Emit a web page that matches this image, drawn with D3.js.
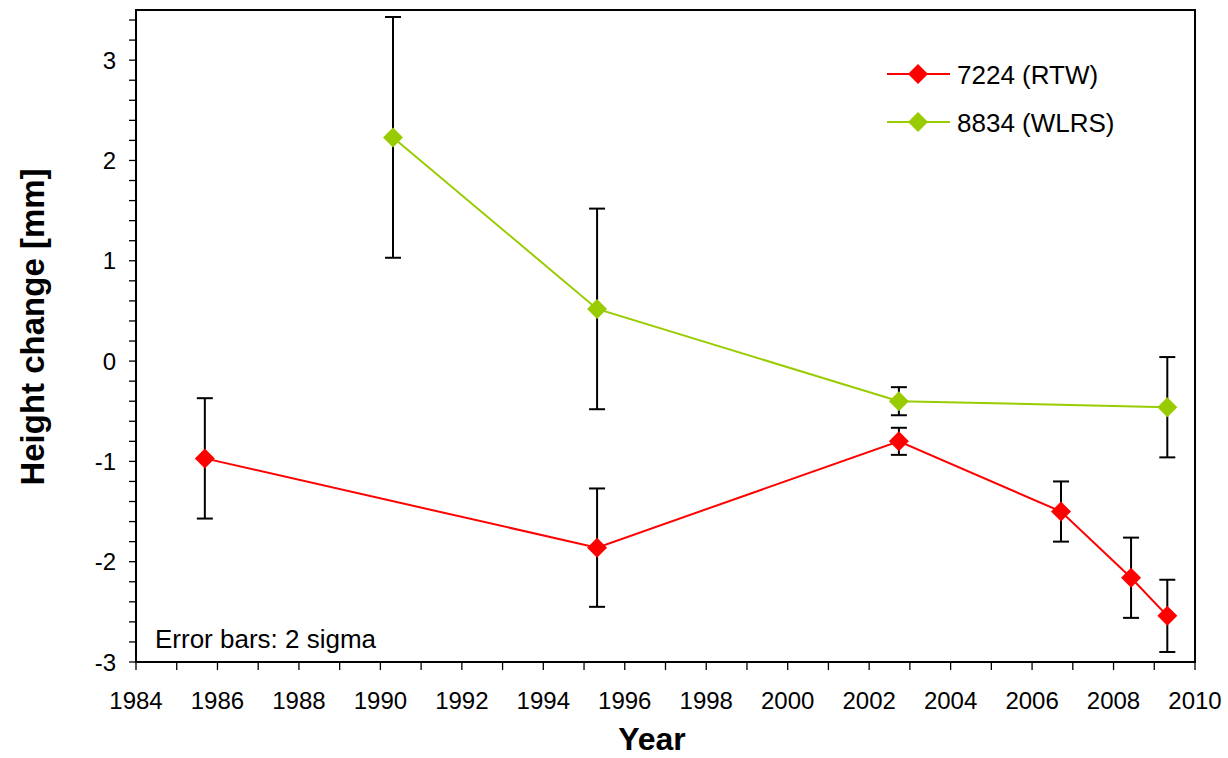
<!DOCTYPE html>
<html><head><meta charset="utf-8">
<script src="https://cdn.jsdelivr.net/npm/d3@7"></script>
<style>body{margin:0;background:#fff}svg{display:block}text{font-family:"Liberation Sans",Arial,sans-serif}</style>
</head><body>
<script>
const rtwYears = [1985.69, 1995.32, 2002.73, 2006.71, 2008.43, 2009.32];
const rtwValues = [-0.97, -1.86, -0.80, -1.50, -2.16, -2.54];
const rtwErrors = [0.60, 0.59, 0.135, 0.30, 0.40, 0.36];
const wlrsYears = [1990.31, 1995.32, 2002.73, 2009.32];
const wlrsValues = [2.23, 0.52, -0.40, -0.46];
const wlrsErrors = [1.20, 1.00, 0.14, 0.50];
const xTicks = d3.range(1984, 2011, 2);
const yTicks = [-3, -2, -1, 0, 1, 2, 3];
const seriesNames = ["7224 (RTW)", "8834 (WLRS)"];
const seriesColors = ["#ff0000", "#99cc00"];

const W = 1228, H = 758;
const L = 136, R = 1195, T = 10, B = 662;
const svg = d3.select("body").append("svg").attr("width", W).attr("height", H);
const x = d3.scaleLinear().domain([1984, 2010]).range([L, R]);
const y = d3.scaleLinear().domain([-3, 3.5]).range([B, T]);

// minor y ticks
const minor = d3.range(-3, 3.51, 0.2).map(v => +v.toFixed(2));
svg.append("g").selectAll("line").data(minor).join("line")
  .attr("x1", L - 7).attr("x2", L).attr("y1", d => y(d)).attr("y2", d => y(d))
  .attr("stroke", "#000").attr("stroke-width", 1.3);
svg.append("g").selectAll("text").data(yTicks).join("text")
  .attr("x", 116).attr("y", d => y(d) + 8.5).attr("text-anchor", "end")
  .attr("font-size", 24).text(d => d);
// x ticks
svg.append("g").selectAll("line").data(d3.range(1984, 2011)).join("line")
  .attr("x1", d => x(d)).attr("x2", d => x(d)).attr("y1", B).attr("y2", B + 8)
  .attr("stroke", "#000").attr("stroke-width", 1.3);
svg.append("g").selectAll("text").data(xTicks).join("text")
  .attr("x", d => x(d)).attr("y", 709).attr("text-anchor", "middle")
  .attr("font-size", 24).text(d => d);

// frame
svg.append("rect").attr("x", L).attr("y", T).attr("width", R - L).attr("height", B - T)
  .attr("fill", "none").attr("stroke", "#000").attr("stroke-width", 2);

// titles
svg.append("text").attr("x", 652).attr("y", 750).attr("text-anchor", "middle")
  .attr("font-size", 32).attr("font-weight", "bold").text("Year");
svg.append("text").attr("transform", "translate(44,327) rotate(-90)").attr("text-anchor", "middle")
  .attr("font-size", 33).attr("font-weight", "bold").text("Height change [mm]");

svg.append("text").attr("x", 155).attr("y", 648).attr("font-size", 26).text("Error bars: 2 sigma");

const series = [
  {years: rtwYears, vals: rtwValues, errs: rtwErrors},
  {years: wlrsYears, vals: wlrsValues, errs: wlrsErrors}
];
const diamond = (cx, cy, r) => `M${cx},${cy - r}L${cx + r},${cy}L${cx},${cy + r}L${cx - r},${cy}Z`;

// error bars
series.forEach(s => {
  const g = svg.append("g").attr("stroke", "#000").attr("stroke-width", 2);
  s.years.forEach((yr, i) => {
    const cx = x(yr), t = y(s.vals[i] + s.errs[i]), b = y(s.vals[i] - s.errs[i]);
    g.append("line").attr("x1", cx).attr("x2", cx).attr("y1", t).attr("y2", b);
    g.append("line").attr("x1", cx - 8).attr("x2", cx + 8).attr("y1", t).attr("y2", t);
    g.append("line").attr("x1", cx - 8).attr("x2", cx + 8).attr("y1", b).attr("y2", b);
  });
});
// lines and markers (green first, red on top)
[1, 0].forEach(k => {
  const s = series[k];
  const pts = s.years.map((yr, i) => [yr, s.vals[i]]);
  svg.append("path").datum(pts)
    .attr("d", d3.line().x(d => x(d[0])).y(d => y(d[1])))
    .attr("fill", "none").attr("stroke", seriesColors[k]).attr("stroke-width", 2);
  svg.append("g").selectAll("path").data(pts).join("path")
    .attr("d", d => diamond(x(d[0]), y(d[1]), 10)).attr("fill", seriesColors[k]);
});

// legend
seriesNames.forEach((n, k) => {
  const ly = 74 + k * 48;
  svg.append("line").attr("x1", 887).attr("x2", 950).attr("y1", ly).attr("y2", ly)
    .attr("stroke", seriesColors[k]).attr("stroke-width", 2);
  svg.append("path").attr("d", diamond(918, ly, 10)).attr("fill", seriesColors[k]);
  svg.append("text").attr("x", 957).attr("y", ly + 9.5).attr("font-size", 26).text(n);
});
</script>
</body></html>
